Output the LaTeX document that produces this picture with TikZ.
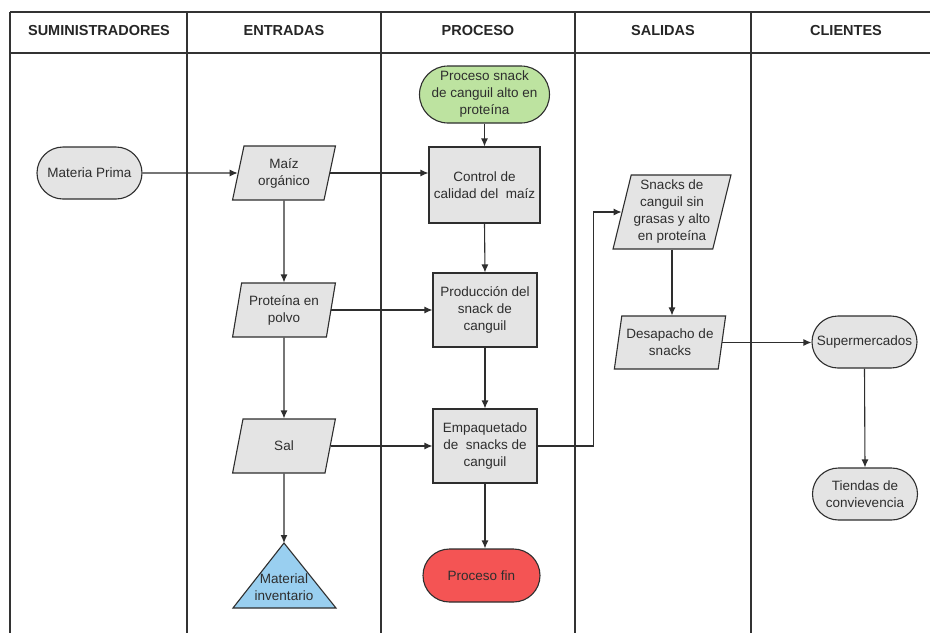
\documentclass[tikz,border=0pt]{standalone}
\usepackage{fontspec}
\setmainfont{Liberation Sans}
\usetikzlibrary{shapes.geometric,shapes.misc,arrows.meta}
\definecolor{boxgray}{HTML}{E4E4E4}
\definecolor{startgreen}{HTML}{BDE3A0}
\definecolor{stockblue}{HTML}{99CFF0}
\definecolor{endred}{HTML}{F45454}
\definecolor{inkgray}{HTML}{2E2E2E}
\definecolor{lanegray}{HTML}{333333}
\tikzset{
  txt/.style={font=\fontsize{13.5}{17}\selectfont, text=inkgray, align=center, inner sep=0pt},
  procbox/.style={txt, rectangle, draw=inkgray, line width=1.1pt, fill=boxgray,
    minimum width=106pt, minimum height=74pt},
  termbox/.style={txt, rounded rectangle, draw=inkgray, line width=1.1pt, fill=boxgray,
    minimum width=105pt, minimum height=52pt},
  databox/.style={txt, trapezium, trapezium stretches=true,
    trapezium left angle=76, trapezium right angle=104,
    draw=inkgray, line width=1.1pt, fill=boxgray,
    minimum width=103pt, minimum height=54pt},
  flow/.style={draw=inkgray, line width=1.1pt, -{Latex[length=8pt,width=7pt]}},
  lane/.style={draw=lanegray, line width=1.3pt},
  head/.style={font=\fontsize{14.5}{16}\bfseries, text=black!85}
}
\begin{document}
\begin{tikzpicture}[x=1pt,y=-1pt]
\useasboundingbox (0,0) rectangle (930,633);
\fill[white] (0,0) rectangle (930,633);

% swimlane frame
\draw[lane] (10,12) -- (930,12);
\draw[lane, line width=2.2pt] (10,53) -- (930,53);
\foreach \lx in {10,187,381,575,751} \draw[lane] (\lx,12) -- (\lx,633);

% lane titles
\node[head] (h1) at (99,31) {SUMINISTRADORES};
\node[head] (h2) at (284,31) {ENTRADAS};
\node[head] (h3) at (478,31) {PROCESO};
\node[head] (h4) at (663,31) {SALIDAS};
\node[head] (h5) at (846,31) {CLIENTES};

% suppliers
\node[termbox] (mp) at (89.5,173) {Materia Prima};

% inputs
\node[databox] (maiz) at (284,173) {Maíz\\orgánico};
\node[databox] (prot) at (284,310) {Proteína en\\polvo};
\node[databox] (sal) at (284,446) {Sal};
\fill[stockblue, draw=inkgray, line width=1.1pt] (284,543) -- (336,608) -- (233,608) -- cycle;
\coordinate (invtop) at (284,543);
\node[txt] (inv) at (284,587) {Material\\inventario};

% process
\node[termbox, fill=startgreen, minimum width=117pt, minimum height=57pt] (start) at (484.5,94.5)
  {Proceso snack\\de canguil alto en\\proteína};
\node[procbox, minimum width=111pt, minimum height=76pt] (control) at (484.5,185) {Control de\\calidad del\ \ maíz};
\node[procbox, minimum width=104pt] (prod) at (485,310) {Producción del\\snack de\\canguil};
\node[procbox, minimum width=104pt] (emp) at (485,446) {Empaquetado\\de\ \ snacks de\\canguil};
\node[termbox, fill=endred, minimum width=117pt, minimum height=53pt] (fin) at (481.5,575.5) {Proceso fin};

% outputs
\node[databox, trapezium left angle=75, trapezium right angle=105,
  minimum width=118pt, minimum height=74pt] (snacks) at (672,212)
  {Snacks de\\canguil sin\\grasas y alto\\en proteína};
\node[databox, minimum width=112pt, minimum height=53pt] (desp) at (670,342.5) {Desapacho de\\snacks};

% customers
\node[termbox] (super) at (864.5,342) {Supermercados};
\node[termbox] (tiendas) at (865,494) {Tiendas de\\convievencia};

% connectors
\draw[flow] (mp.east) -- (maiz.west);
\draw[flow] (maiz.east) -- (maiz.east -| control.west);
\draw[flow] (start.south) -- (control.north);
\draw[flow] (control.south) -- (prod.north);
\draw[flow] (prod.south) -- (emp.north);
\draw[flow] (emp.south) -- (emp.south |- fin.north);
\draw[flow] (maiz.south) -- (prot.north);
\draw[flow] (prot.east) -- (prot.east -| prod.west);
\draw[flow] (prot.south) -- (sal.north);
\draw[flow] (sal.east) -- (sal.east -| emp.west);
\draw[flow] (sal.south) -- (invtop);
\draw[flow] (emp.east) -- ++(56,0) |- (snacks.west);
\draw[flow] (snacks.south) -- (snacks.south |- desp.north);
\draw[flow] (desp.east) -- (desp.east -| super.west);
\draw[flow] (super.south) -- (tiendas.north);
\end{tikzpicture}
\end{document}
